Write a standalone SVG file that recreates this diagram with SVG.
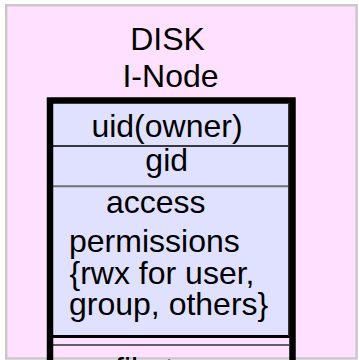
<svg xmlns="http://www.w3.org/2000/svg" width="359" height="360" viewBox="0 0 359 360">
<style>
text{font-family:"Liberation Sans",Arial,sans-serif;font-size:32px;fill:#000}
.c{text-anchor:middle}
</style>
<rect width="359" height="360" fill="#ffffff"/>
<g id="frame">
<rect x="6.2" y="5.2" width="350.4" height="353.3" fill="#FFE0FF" stroke="#C8C8C8" stroke-width="2.4"/>
</g>
<g id="title">
<text class="c" x="167.5" y="50">DISK</text>
<text class="c" x="170.5" y="87">I-Node</text>
</g>
<g id="inode">
<rect x="53" y="104" width="236" height="231" fill="#E0E0FF"/>
<line x1="53" y1="146" x2="289" y2="146" stroke="#000" stroke-width="1.3"/>
<line x1="53" y1="186.2" x2="289" y2="186.2" stroke="#707070" stroke-width="2"/>
<line x1="50" y1="336.4" x2="292" y2="336.4" stroke="#000" stroke-width="3"/>
<line x1="53" y1="345" x2="289" y2="345" stroke="#333" stroke-width="1.3"/>
<line x1="289" y1="104" x2="289" y2="336" stroke="#333" stroke-width="2"/>
<path d="M50 370 V100.5 H292.5 V370" fill="none" stroke="#000" stroke-width="6.5"/>
<text class="c" x="167" y="137">uid(owner)</text>
<text class="c" x="166.7" y="171">gid</text>
<text x="106" y="213">access</text>
<text x="69" y="251.5">permissions</text>
<text x="69.5" y="283.5">{rwx for user,</text>
<text x="69" y="315">group, others}</text>
<text x="115" y="380">file type</text>
</g>
</svg>
